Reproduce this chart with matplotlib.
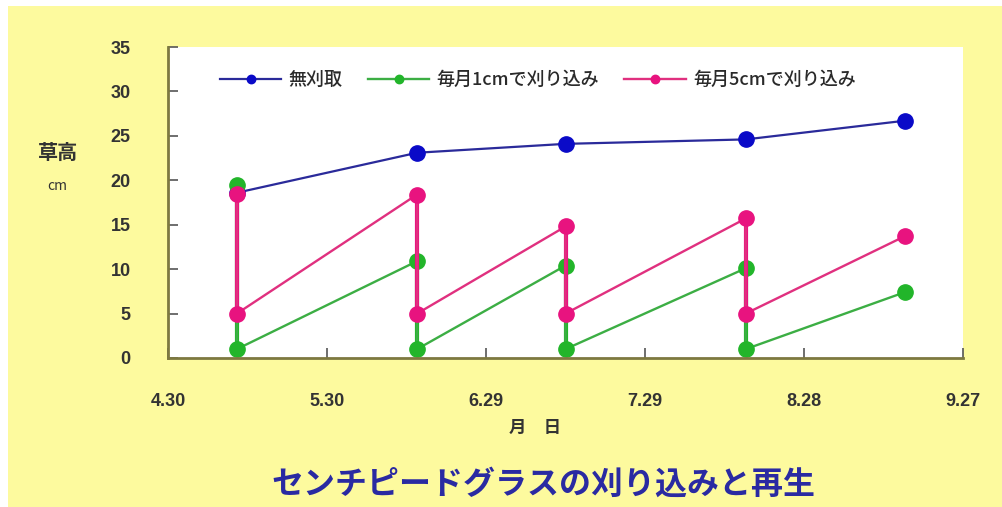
import pandas as pd
import matplotlib
matplotlib.use("Agg")
import matplotlib.pyplot as plt
from matplotlib.patches import Rectangle

plt.rcParams['font.family'] = ['Noto Sans CJK JP', 'DejaVu Sans']

# cutting / measuring dates
dates = pd.to_datetime(["2000-05-13", "2000-06-16", "2000-07-14", "2000-08-17", "2000-09-16"])
uncut = [18.6, 23.1, 24.1, 24.6, 26.7]              # 無刈取
cut1_before = [19.5, 10.9, 10.4, 10.1, 7.4]         # 毎月1cmで刈り込み (before cut)
cut1_after = [1, 1, 1, 1]                           # after cut to 1cm
cut5_before = [18.5, 18.4, 14.8, 15.7, 13.7]        # 毎月5cmで刈り込み (before cut)
cut5_after = [5, 5, 5, 5]                           # after cut to 5cm

tick_dates = pd.to_datetime(["2000-04-30", "2000-05-30", "2000-06-29",
                             "2000-07-29", "2000-08-28", "2000-09-27"])
tick_labels = ["4.30", "5.30", "6.29", "7.29", "8.28", "9.27"]

labels = ["無刈取", "毎月1cmで刈り込み", "毎月5cmで刈り込み"]
colors = ["#0a0ac8", "#22b52a", "#e8137f"]
line_colors = ["#2a2a9a", "#3cae44", "#e0307f"]


def sawtooth(before, after):
    xs, ys = [], []
    for i, d in enumerate(dates):
        xs.append(d)
        ys.append(before[i])
        if i < len(after):
            xs.append(d)
            ys.append(after[i])
    return xs, ys


fig = plt.figure(figsize=(10.02, 5.07), dpi=100)
fig.patch.set_facecolor("white")
fig.patches.append(Rectangle((8 / 1002, 0), 1 - 8 / 1002, 1 - 6 / 507,
                             transform=fig.transFigure, facecolor="#fdfa9e",
                             edgecolor="none", zorder=-10))

ax = fig.add_axes([168 / 1002, 149 / 507, 795 / 1002, 311 / 507])
ax.set_facecolor("white")

ax.plot(dates, uncut, color=line_colors[0], lw=1.6, marker="o", ms=11,
        mfc=colors[0], mec=colors[0], label=labels[0], zorder=3)

x1, y1 = sawtooth(cut1_before, cut1_after)
ax.vlines(dates[:len(cut1_after)], cut1_after, cut1_before[:len(cut1_after)],
          color=colors[1], lw=3, zorder=4)
ax.plot(x1, y1, color=line_colors[1], lw=1.7, marker="o", ms=11,
        mfc=colors[1], mec=colors[1], label=labels[1], zorder=4)

x5, y5 = sawtooth(cut5_before, cut5_after)
ax.vlines(dates[:len(cut5_after)], cut5_after, cut5_before[:len(cut5_after)],
          color=colors[2], lw=3, zorder=5)
ax.plot(x5, y5, color=line_colors[2], lw=1.7, marker="o", ms=11,
        mfc=colors[2], mec=colors[2], label=labels[2], zorder=5)

ax.set_xlim(tick_dates[0], tick_dates[-1])
ax.set_ylim(0, 35)
ax.set_xticks(tick_dates)
ax.set_xticklabels(tick_labels)
ax.set_yticks(range(0, 36, 5))

for s in ["top", "right"]:
    ax.spines[s].set_visible(False)
for s in ["left", "bottom"]:
    ax.spines[s].set_color("#7d7840")
    ax.spines[s].set_linewidth(2)
    ax.spines[s].set_zorder(6)

ax.tick_params(axis="both", direction="in", length=7, width=1.2, color="#555555",
               labelsize=13, labelcolor="#333333")
ax.tick_params(axis="y", pad=27)
ax.tick_params(axis="x", pad=25)
for t in ax.get_xticklabels() + ax.get_yticklabels():
    t.set_family(["Liberation Sans", "DejaVu Sans"])
    t.set_fontweight("bold")

leg = ax.legend(loc="center left", bbox_to_anchor=(0.045, 0.894), ncol=3,
                frameon=False, fontsize=13, handlelength=3.4, columnspacing=1.4,
                handletextpad=0.4, markerscale=0.55)
for t in leg.get_texts():
    t.set_color("#2a2a2a")
    t.set_fontweight("medium")

fig.text(58 / 1002, 1 - 152 / 507, "草高", ha="center", va="center",
         fontsize=14.5, fontweight="bold", color="#333333")
fig.text(57 / 1002, 1 - 186 / 507, "cm", ha="center", va="center",
         fontsize=10, color="#333333")
fig.text(535 / 1002, 1 - 428 / 507, "月　日", ha="center", va="center",
         fontsize=12.5, fontweight="bold", color="#333333")
fig.text(543 / 1002, 1 - 485 / 507, "センチピードグラスの刈り込みと再生",
         ha="center", va="center", fontsize=23, fontweight="bold", color="#2a2aa2")

fig.savefig("out.png", dpi=100)
